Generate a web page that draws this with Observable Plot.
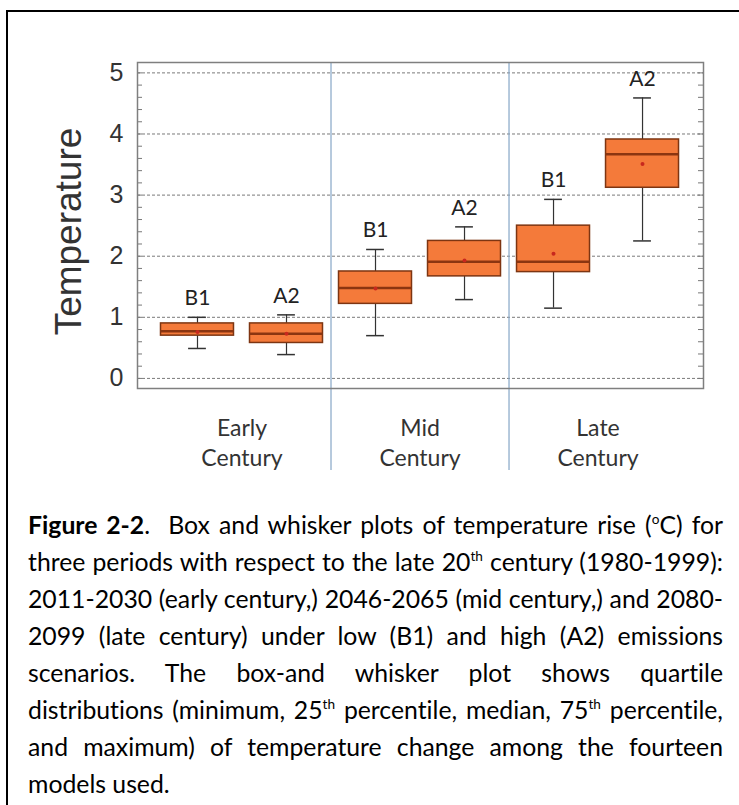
<!DOCTYPE html>
<html><head><meta charset="utf-8">
<script src="https://cdn.jsdelivr.net/npm/d3@7"></script>
<script src="https://cdn.jsdelivr.net/npm/@observablehq/plot@0.6"></script>
<style>
html,body{margin:0;padding:0;background:#fff;width:739px;height:805px;overflow:hidden;position:relative}
#border{position:absolute;left:6px;top:10px;width:760px;height:820px;border-left:2px solid #000;border-top:2px solid #000;}
#chart{position:absolute;left:0;top:0}
#caption{position:absolute;left:28px;top:506px;width:695px;font-family:Lato,"Open Sans",sans-serif;color:#000;font-size:26px;font-variant-ligatures:none}
#caption .ln{height:37px;line-height:37px;white-space:nowrap;text-align:justify;text-align-last:justify}
#caption .ln.last{text-align-last:left}
#caption.measuring .ln{text-align-last:left}
sup{font-size:0.55em;line-height:0;vertical-align:0.75em}
</style></head><body>
<div id="border"></div>
<div id="chart"></div>
<div id="caption" class="measuring">
<div class="ln"><span><b>Figure 2-2</b>.&nbsp; Box and whisker plots of temperature rise (<sup>o</sup>C) for</span></div>
<div class="ln"><span>three periods with respect to the late 20<sup>th</sup> century (1980-1999):</span></div>
<div class="ln"><span>2011-2030 (early century,) 2046-2065 (mid century,) and 2080-</span></div>
<div class="ln"><span>2099 (late century) under low (B1) and high (A2) emissions</span></div>
<div class="ln"><span>scenarios. The box-and whisker plot shows quartile</span></div>
<div class="ln"><span>distributions (minimum, 25<sup>th</sup> percentile, median, 75<sup>th</sup> percentile,</span></div>
<div class="ln"><span>and maximum) of temperature change among the fourteen</span></div>
<div class="ln last"><span>models used.</span></div>
</div>
<script>
// ---- data ----
const periods = ["Early\nCentury", "Mid\nCentury", "Late\nCentury"];
const scenarios = ["B1", "A2", "B1", "A2", "B1", "A2"];
const mins    = [0.49, 0.39, 0.70, 1.29, 1.15, 2.25];
const q1s     = [0.70, 0.58, 1.22, 1.67, 1.74, 3.12];
const medians = [0.77, 0.73, 1.48, 1.91, 1.91, 3.67];
const q3s     = [0.90, 0.90, 1.75, 2.25, 2.50, 3.91];
const maxs    = [1.00, 1.04, 2.11, 2.48, 2.93, 4.59];
const means   = [0.76, 0.73, 1.47, 1.93, 2.04, 3.51];
const yTicks  = [0, 1, 2, 3, 4, 5];

const rows = scenarios.map((s, i) => ({
  pos: i + 1, scenario: s, min: mins[i], q1: q1s[i], median: medians[i],
  q3: q3s[i], max: maxs[i], mean: means[i]
}));
const halfBox = 0.41, halfCap = 0.1;
const periodPos = periods.map((p, j) => 2 * j + 1.5);
const dividers = periods.slice(1).map((p, j) => 2 * (j + 1) + 0.5);
const minorTicks = d3.range(0, 26).map(k => k / 5);
const W = 739, mL = 137, mR = 36;
const frameW = W - mL - mR;

const chart = Plot.plot({
  width: W, height: 480,
  marginLeft: mL, marginRight: mR, marginTop: 62, marginBottom: 92,
  x: {type: "linear", domain: [0.326, 6.685], axis: null},
  y: {domain: [-0.165, 5.17], axis: null},
  style: {fontFamily: "'Liberation Sans', Arial, sans-serif", background: "transparent", overflow: "visible"},
  marks: [
    Plot.gridY(yTicks, {stroke: "#7a7a7a", strokeOpacity: 1, strokeDasharray: "3,2"}),
    Plot.ruleX(dividers, {stroke: "#86a6c6", strokeWidth: 1.2, insetBottom: -82}),
    Plot.ruleY(minorTicks, {stroke: "#777", insetRight: frameW - 5}),
    Plot.ruleY(minorTicks, {stroke: "#777", insetLeft: frameW - 5}),
    Plot.axisY(yTicks, {anchor: "left", tickSize: 0, tickPadding: 14, tickFormat: d3.format("d"),
      fontSize: 25, fill: "#333", label: null}),
    Plot.axisX(periodPos, {anchor: "bottom", tickSize: 0, tickPadding: 26,
      tickFormat: d => periods[(d - 1.5) / 2], fontSize: 23, fontFamily: "Lato, sans-serif",
      lineHeight: 1.3, fill: "#333", label: null}),
    Plot.ruleX(rows, {x: "pos", y1: "min", y2: "q1", stroke: "#333", strokeWidth: 1.2}),
    Plot.ruleX(rows, {x: "pos", y1: "q3", y2: "max", stroke: "#333", strokeWidth: 1.2}),
    Plot.ruleY(rows, {y: "min", x1: d => d.pos - halfCap, x2: d => d.pos + halfCap, stroke: "#333", strokeWidth: 1.5}),
    Plot.ruleY(rows, {y: "max", x1: d => d.pos - halfCap, x2: d => d.pos + halfCap, stroke: "#333", strokeWidth: 1.5}),
    Plot.rect(rows, {x1: d => d.pos - halfBox, x2: d => d.pos + halfBox, y1: "q1", y2: "q3",
      fill: "#f47a3a", stroke: "#7d3512", strokeWidth: 1.5}),
    Plot.ruleY(rows, {y: "median", x1: d => d.pos - halfBox, x2: d => d.pos + halfBox, stroke: "#8b3510", strokeWidth: 2.5}),
    Plot.dot(rows, {x: "pos", y: "mean", r: 2, fill: "#c8281e", stroke: null}),
    Plot.text(rows, {x: "pos", y: "max", text: "scenario", dy: -19, fontSize: 21, fontFamily: "Lato, sans-serif", fill: "#222"}),
    Plot.frame({stroke: "#7f7f7f", strokeWidth: 1.5}),
    Plot.text(["Temperature"], {text: d => d, frameAnchor: "left", textAnchor: "middle", rotate: -90,
      dx: -68, dy: 6, fontSize: 37, fill: "#333"})
  ]
});
document.getElementById("chart").appendChild(chart);

// fit caption font so the widest line fits the 695px measure
const cap = document.getElementById("caption");
let maxW = 0;
cap.querySelectorAll(".ln span").forEach(s => { maxW = Math.max(maxW, s.getBoundingClientRect().width); });
if (maxW > 693) cap.style.fontSize = (26 * 693 / maxW).toFixed(2) + "px";
cap.classList.remove("measuring");
</script>
</body></html>
